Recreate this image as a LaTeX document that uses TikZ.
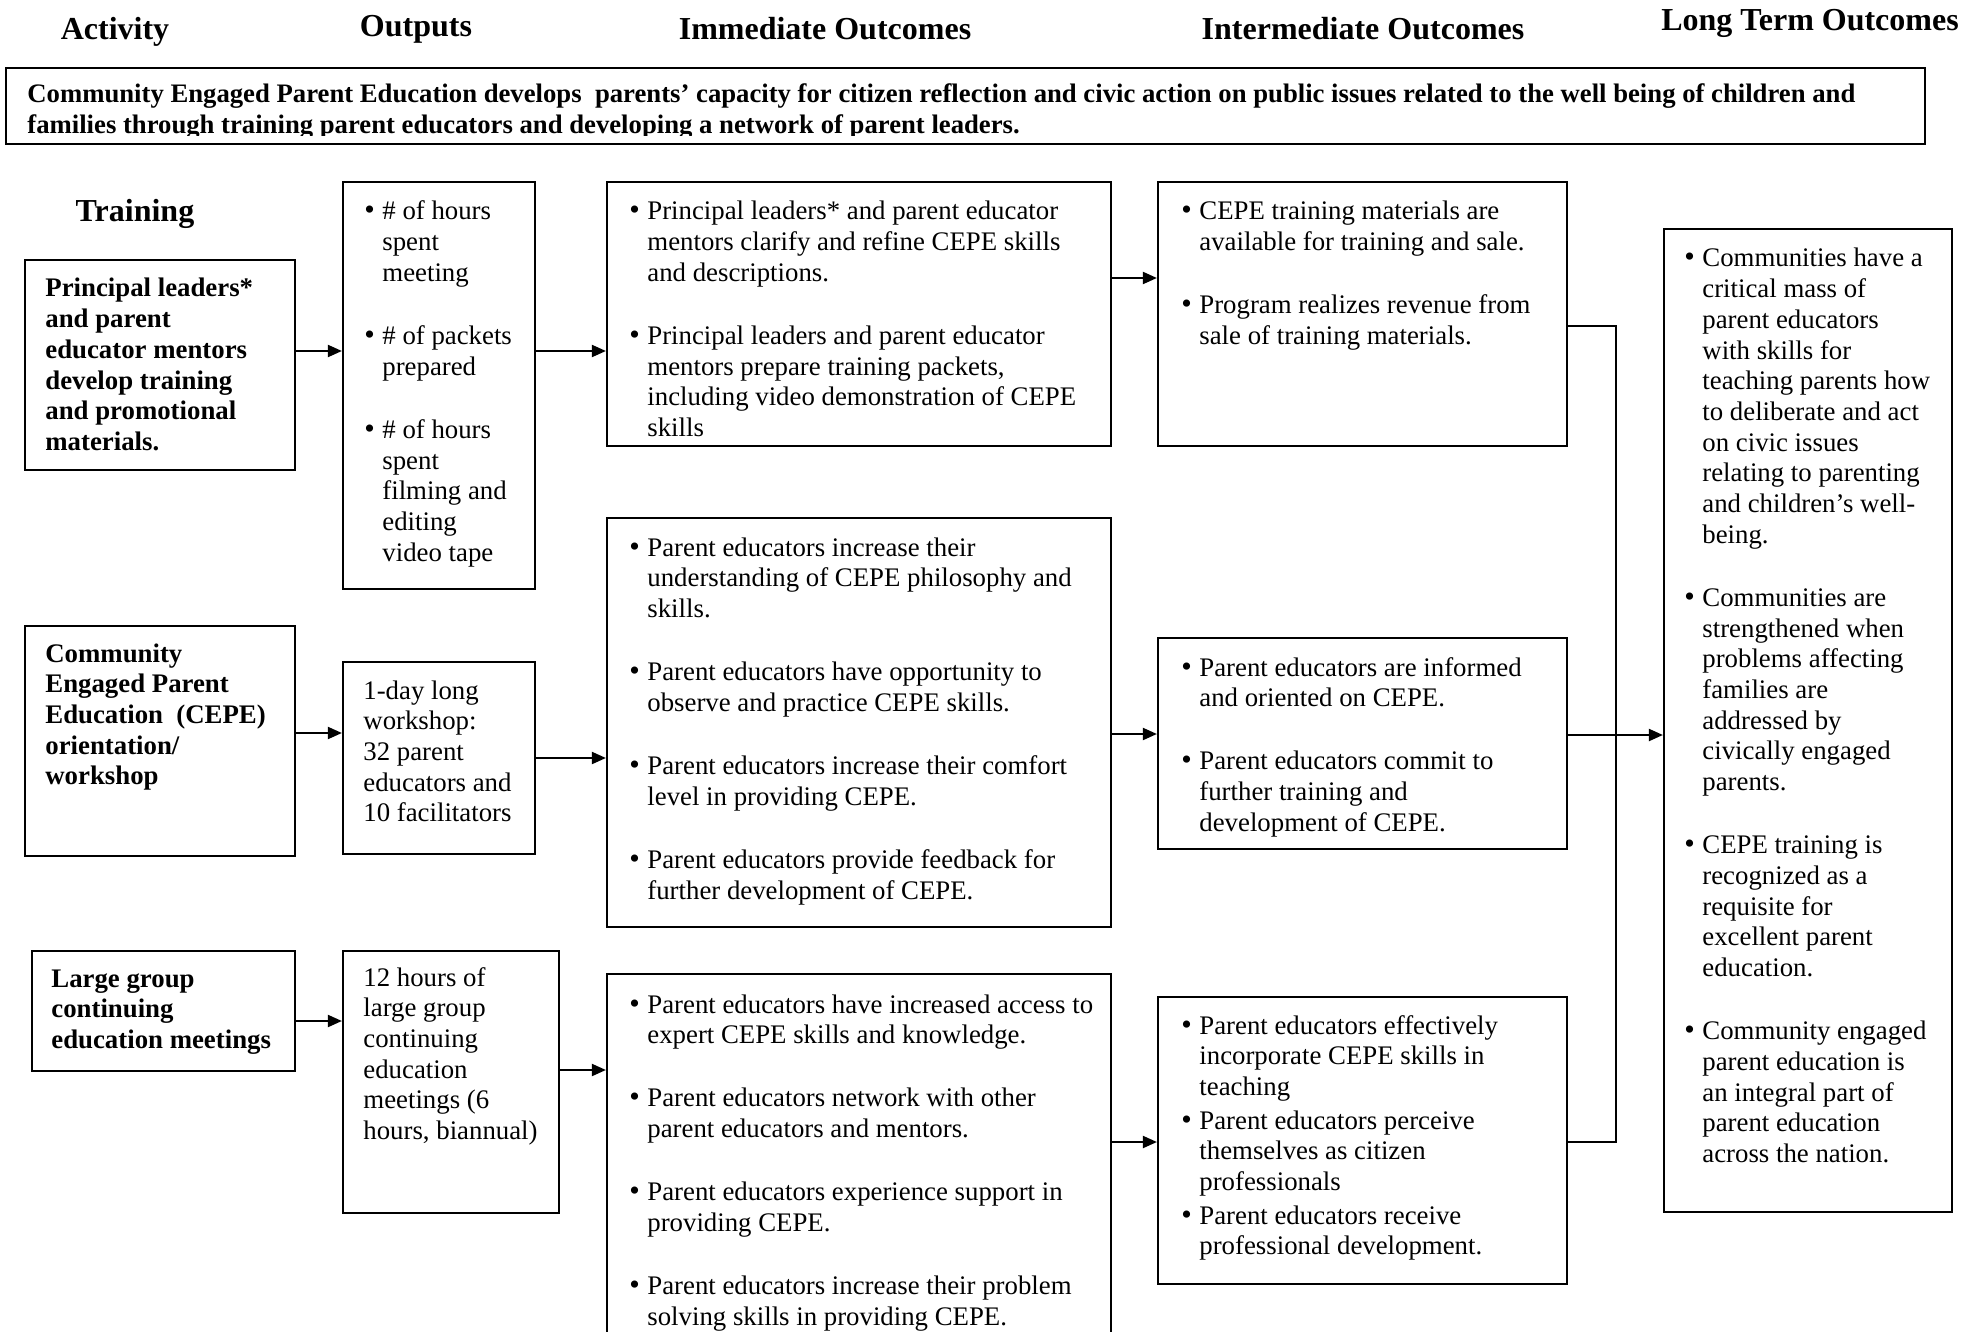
\documentclass[tikz,border=0pt]{standalone}
\usepackage{fontspec}
\setmainfont{Liberation Serif}
\usetikzlibrary{fit,arrows.meta}
\newcommand\bl{\makebox[9pt][l]{\scalebox{1.12}{\textbullet}}}
\newcommand\ind{\hspace*{9pt}}
\newcommand\gp{\\[16.25pt]}
\newcommand\bodyfont{\fontsize{13.4}{15.35}\selectfont}
\newcommand\lines[1]{\begin{tabular}[t]{@{}l@{}}#1\end{tabular}}
\tikzset{
  box/.style={draw, line width=1.1pt, inner sep=0pt, rectangle},
  txt/.style={anchor=base west, inner sep=0pt, font=\bodyfont},
  btxt/.style={anchor=base west, inner sep=0pt, font=\bodyfont\bfseries},
  head/.style={anchor=base, inner sep=0pt, font=\fontsize{16}{18}\selectfont\bfseries},
  conn/.style={line width=1pt},
  arr/.style={line width=1pt, -{Triangle[length=7pt,width=6pt]}}
}
\begin{document}
\begin{tikzpicture}[x=0.5pt,y=-0.5pt]
\useasboundingbox (0,0) rectangle (1982,1332);

% headers
\node[head] (hA) at (115,40) {Activity};
\node[head] (hO) at (416,37) {Outputs};
\node[head] (hI) at (825,40) {Immediate Outcomes};
\node[head] (hM) at (1363,40) {Intermediate Outcomes};
\node[head] (hL) at (1810,31) {Long Term Outcomes};
\node[head] (hT) at (135,222) {Training};

% banner
\node[box, line width=1.3pt, fit={(6,68)(1925,144)}] (ban) {};
\begin{scope}
\clip (0,60) rectangle (1982,135.5);
\node[anchor=base west, inner sep=0pt, font=\fontsize{13.35}{15.5}\selectfont\bfseries] (bant) at (27,103)
 {\lines{Community Engaged Parent Education develops\ \ parents’ capacity for citizen reflection and civic action on public issues related to the well being of children and\\
 families through training parent educators and developing a network of parent leaders.}};
\end{scope}

% activity boxes
\node[box, fit={(25,260)(295,470)}] (A1) {};
\node[btxt] (A1t) at (45,297) {\lines{Principal leaders*\\ and parent\\ educator mentors\\ develop training\\ and promotional\\ materials.}};
\node[box, fit={(25,626)(295,856)}] (A2) {};
\node[btxt] (A2t) at (45,662) {\lines{Community\\ Engaged Parent\\ Education\ \ (CEPE)\\ orientation/\\ workshop}};
\node[box, fit={(32,951)(295,1071)}] (A3) {};
\node[btxt] (A3t) at (51,987) {\lines{Large group\\ continuing\\ education meetings}};

% output boxes
\node[box, fit={(343,182)(535,589)}] (O1) {};
\node[txt] (O1t) at (364,220) {\lines{\bl \# of hours\\ \ind spent\\ \ind meeting\gp \bl \# of packets\\ \ind prepared\gp \bl \# of hours\\ \ind spent\\ \ind filming and\\ \ind editing\\ \ind video tape}};
\node[box, fit={(343,662)(535,854)}] (O2) {};
\node[txt] (O2t) at (363,699) {\lines{1-day long\\ workshop:\\ 32 parent\\ educators and\\ 10 facilitators}};
\node[box, fit={(343,951)(559,1213)}] (O3) {};
\node[txt] (O3t) at (363,986) {\lines{12 hours of\\ large group\\ continuing\\ education\\ meetings (6\\ hours, biannual)}};

% immediate outcomes
\node[box, fit={(607,182)(1111,446)}] (I1) {};
\node[txt] (I1t) at (629,220) {\lines{\bl Principal leaders* and parent educator\\ \ind mentors clarify and refine CEPE skills\\ \ind and descriptions.\gp \bl Principal leaders and parent educator\\ \ind mentors prepare training packets,\\ \ind including video demonstration of CEPE\\ \ind skills}};
\node[box, fit={(607,518)(1111,927)}] (I2) {};
\node[txt] (I2t) at (629,556) {\lines{\bl Parent educators increase their\\ \ind understanding of CEPE philosophy and\\ \ind skills.\gp \bl Parent educators have opportunity to\\ \ind observe and practice CEPE skills.\gp \bl Parent educators increase their comfort\\ \ind level in providing CEPE.\gp \bl Parent educators provide feedback for\\ \ind further development of CEPE.}};
\node[box, fit={(607,974)(1111,1400)}] (I3) {};
\node[txt] (I3t) at (629,1013) {\lines{\bl Parent educators have increased access to\\ \ind expert CEPE skills and knowledge.\gp \bl Parent educators network with other\\ \ind parent educators and mentors.\gp \bl Parent educators experience support in\\ \ind providing CEPE.\gp \bl Parent educators increase their problem\\ \ind solving skills in providing CEPE.}};

% intermediate outcomes
\node[box, fit={(1158,182)(1567,446)}] (M1) {};
\node[txt] (M1t) at (1181,220) {\lines{\bl CEPE training materials are\\ \ind available for training and sale.\gp \bl Program realizes revenue from\\ \ind sale of training materials.}};
\node[box, fit={(1158,638)(1567,849)}] (M2) {};
\node[txt] (M2t) at (1181,676) {\lines{\bl Parent educators are informed\\ \ind and oriented on CEPE.\gp \bl Parent educators commit to\\ \ind further training and\\ \ind development of CEPE.}};
\node[box, fit={(1158,997)(1567,1284)}] (M3) {};
\node[txt] (M3t) at (1181,1034) {\lines{\bl Parent educators effectively\\ \ind incorporate CEPE skills in\\ \ind teaching\\[1.5pt] \bl Parent educators perceive\\ \ind themselves as citizen\\ \ind professionals\\[1.5pt] \bl Parent educators receive\\ \ind professional development.}};

% long term outcomes
\node[box, fit={(1664,229)(1952,1212)}] (L) {};
\node[txt] (Lt) at (1684,267) {\lines{\bl Communities have a\\ \ind critical mass of\\ \ind parent educators\\ \ind with skills for\\ \ind teaching parents how\\ \ind to deliberate and act\\ \ind on civic issues\\ \ind relating to parenting\\ \ind and children’s well-\\ \ind being.\gp \bl Communities are\\ \ind strengthened when\\ \ind problems affecting\\ \ind families are\\ \ind addressed by\\ \ind civically engaged\\ \ind parents.\gp \bl CEPE training is\\ \ind recognized as a\\ \ind requisite for\\ \ind excellent parent\\ \ind education.\gp \bl Community engaged\\ \ind parent education is\\ \ind an integral part of\\ \ind parent education\\ \ind across the nation.}};

% connectors
\draw[arr] (A1.east |- 0,351) -- (O1.west |- 0,351);
\draw[arr] (O1.east |- 0,351) -- (I1.west |- 0,351);
\draw[arr] (A2.east |- 0,733) -- (O2.west |- 0,733);
\draw[arr] (O2.east |- 0,758) -- (I2.west |- 0,758);
\draw[arr] (A3.east |- 0,1021) -- (O3.west |- 0,1021);
\draw[arr] (O3.east |- 0,1070) -- (I3.west |- 0,1070);
\draw[arr] (I1.east |- 0,278) -- (M1.west |- 0,278);
\draw[arr] (I2.east |- 0,734) -- (M2.west |- 0,734);
\draw[arr] (I3.east |- 0,1142) -- (M3.west |- 0,1142);
\coordinate (jt) at (1616,326);
\coordinate (jb) at (1616,1142);
\draw[conn] (M1.east |- jt) -- (jt) -- (jb) -- (M3.east |- jb);
\draw[arr] (M2.east |- 0,735) -- (L.west |- 0,735);
\end{tikzpicture}
\end{document}
